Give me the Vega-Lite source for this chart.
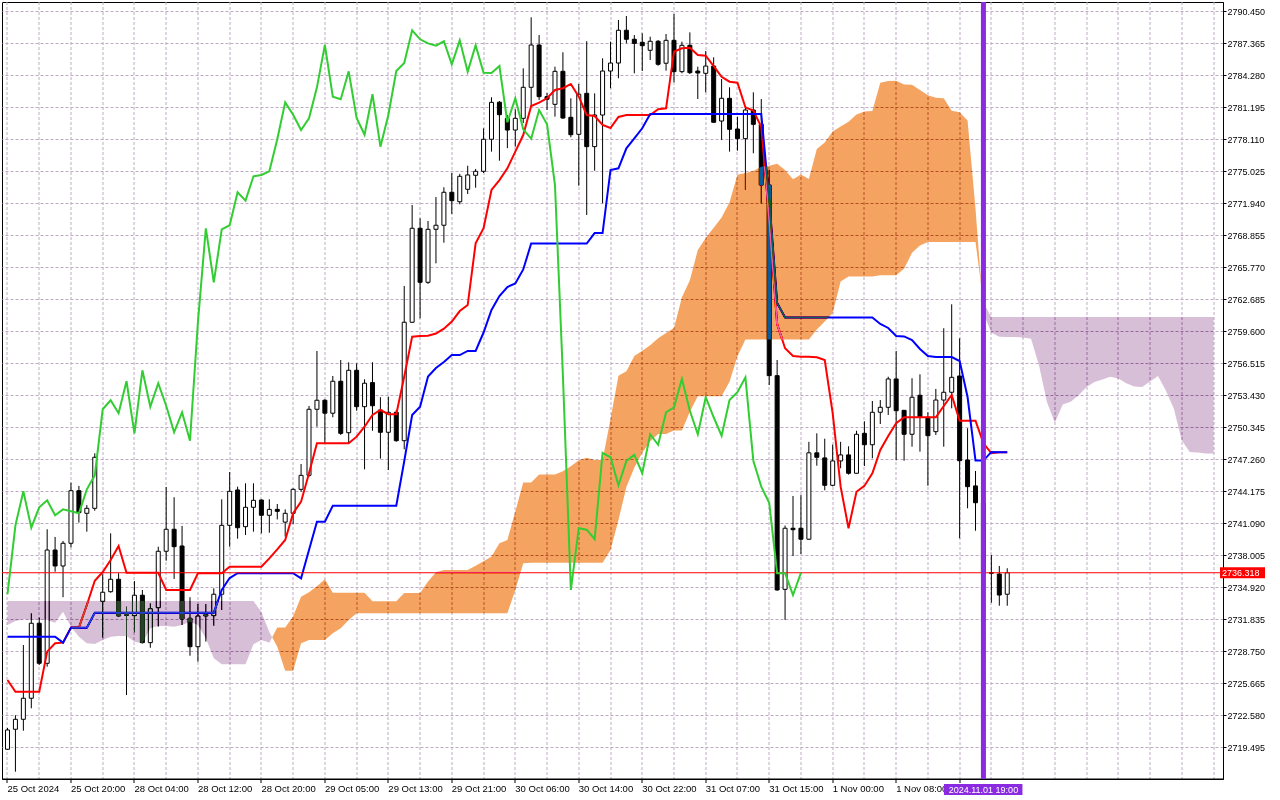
{
  "$schema": "https://vega.github.io/schema/vega-lite/v6.json",
  "width": 1221,
  "height": 777,
  "autosize": {"type": "none"},
  "padding": {"left": 2, "top": 2, "right": 57, "bottom": 21},
  "background": "white",
  "datasets": {
    "bars": [
      {"i": 0, "o": 2719.30, "h": 2721.35, "l": 2719.23, "c": 2721.16, "tenkan": 2725.98, "kijun": 2730.15, "chikou": 2734.25},
      {"i": 1, "o": 2721.23, "h": 2722.58, "l": 2717.14, "c": 2722.19, "tenkan": 2724.85, "kijun": 2730.15, "chikou": 2740.89},
      {"i": 2, "o": 2722.19, "h": 2729.35, "l": 2721.09, "c": 2724.22, "tenkan": 2724.85, "kijun": 2730.15, "chikou": 2744.17},
      {"i": 3, "o": 2724.22, "h": 2732.41, "l": 2723.25, "c": 2731.45, "tenkan": 2724.85, "kijun": 2730.15, "chikou": 2740.66},
      {"i": 4, "o": 2731.45, "h": 2731.99, "l": 2727.43, "c": 2727.59, "tenkan": 2724.85, "kijun": 2730.15, "chikou": 2742.63},
      {"i": 5, "o": 2727.59, "h": 2740.51, "l": 2727.26, "c": 2738.51, "tenkan": 2728.71, "kijun": 2730.15, "chikou": 2743.30},
      {"i": 6, "o": 2738.51, "h": 2739.77, "l": 2736.42, "c": 2736.97, "tenkan": 2729.52, "kijun": 2730.15, "chikou": 2741.86},
      {"i": 7, "o": 2736.97, "h": 2739.38, "l": 2733.96, "c": 2739.16, "tenkan": 2729.58, "kijun": 2729.58, "chikou": 2742.43},
      {"i": 8, "o": 2739.16, "h": 2745.00, "l": 2738.77, "c": 2744.23, "tenkan": 2731.04, "kijun": 2731.02, "chikou": 2742.24},
      {"i": 9, "o": 2744.23, "h": 2744.69, "l": 2741.15, "c": 2742.11, "tenkan": 2731.04, "kijun": 2731.02, "chikou": 2742.05},
      {"i": 10, "o": 2742.05, "h": 2742.85, "l": 2740.28, "c": 2742.53, "tenkan": 2733.21, "kijun": 2731.02, "chikou": 2744.36},
      {"i": 11, "o": 2742.53, "h": 2747.84, "l": 2742.30, "c": 2747.45, "tenkan": 2735.55, "kijun": 2732.47, "chikou": 2745.71},
      {"i": 12, "o": 2733.57, "h": 2736.17, "l": 2730.06, "c": 2734.44, "tenkan": 2736.39, "kijun": 2732.47, "chikou": 2752.08},
      {"i": 13, "o": 2734.49, "h": 2740.12, "l": 2734.40, "c": 2735.69, "tenkan": 2737.55, "kijun": 2732.47, "chikou": 2752.95},
      {"i": 14, "o": 2735.69, "h": 2736.27, "l": 2732.08, "c": 2732.15, "tenkan": 2738.90, "kijun": 2732.47, "chikou": 2751.70},
      {"i": 15, "o": 2732.41, "h": 2733.05, "l": 2724.53, "c": 2732.22, "tenkan": 2736.32, "kijun": 2732.47, "chikou": 2754.78},
      {"i": 16, "o": 2732.18, "h": 2735.52, "l": 2730.58, "c": 2734.15, "tenkan": 2736.32, "kijun": 2732.47, "chikou": 2749.76},
      {"i": 17, "o": 2734.15, "h": 2734.66, "l": 2729.50, "c": 2729.58, "tenkan": 2736.32, "kijun": 2732.47, "chikou": 2755.84},
      {"i": 18, "o": 2729.58, "h": 2733.37, "l": 2729.09, "c": 2732.85, "tenkan": 2736.32, "kijun": 2732.47, "chikou": 2752.33},
      {"i": 19, "o": 2732.95, "h": 2738.83, "l": 2731.12, "c": 2738.39, "tenkan": 2736.32, "kijun": 2732.47, "chikou": 2754.59},
      {"i": 20, "o": 2738.39, "h": 2744.59, "l": 2737.48, "c": 2740.51, "tenkan": 2734.66, "kijun": 2732.47, "chikou": 2752.42},
      {"i": 21, "o": 2740.51, "h": 2743.60, "l": 2735.72, "c": 2738.83, "tenkan": 2734.66, "kijun": 2732.47, "chikou": 2749.86},
      {"i": 22, "o": 2738.90, "h": 2740.83, "l": 2731.28, "c": 2731.86, "tenkan": 2734.66, "kijun": 2732.47, "chikou": 2751.79},
      {"i": 23, "o": 2731.93, "h": 2733.96, "l": 2728.32, "c": 2729.19, "tenkan": 2734.66, "kijun": 2732.47, "chikou": 2749.05},
      {"i": 24, "o": 2729.19, "h": 2733.31, "l": 2727.74, "c": 2732.15, "tenkan": 2736.27, "kijun": 2732.47, "chikou": 2760.47},
      {"i": 25, "o": 2732.28, "h": 2733.31, "l": 2729.68, "c": 2732.15, "tenkan": 2736.27, "kijun": 2732.47, "chikou": 2769.53},
      {"i": 26, "o": 2732.18, "h": 2734.82, "l": 2731.21, "c": 2734.25, "tenkan": 2736.27, "kijun": 2732.47, "chikou": 2764.32},
      {"i": 27, "o": 2734.25, "h": 2743.40, "l": 2732.73, "c": 2740.89, "tenkan": 2736.27, "kijun": 2734.66, "chikou": 2769.43},
      {"i": 28, "o": 2740.89, "h": 2746.03, "l": 2738.83, "c": 2744.17, "tenkan": 2736.90, "kijun": 2735.81, "chikou": 2769.82},
      {"i": 29, "o": 2744.30, "h": 2744.62, "l": 2739.60, "c": 2740.66, "tenkan": 2736.90, "kijun": 2736.27, "chikou": 2773.00},
      {"i": 30, "o": 2740.76, "h": 2744.94, "l": 2739.96, "c": 2742.63, "tenkan": 2736.90, "kijun": 2736.27, "chikou": 2772.19},
      {"i": 31, "o": 2742.63, "h": 2744.94, "l": 2740.28, "c": 2743.30, "tenkan": 2736.90, "kijun": 2736.27, "chikou": 2774.54},
      {"i": 32, "o": 2743.33, "h": 2743.40, "l": 2740.12, "c": 2741.86, "tenkan": 2736.90, "kijun": 2736.27, "chikou": 2774.67},
      {"i": 33, "o": 2741.86, "h": 2743.40, "l": 2740.18, "c": 2742.43, "tenkan": 2737.71, "kijun": 2736.27, "chikou": 2775.02},
      {"i": 34, "o": 2742.43, "h": 2742.95, "l": 2741.46, "c": 2742.24, "tenkan": 2738.58, "kijun": 2736.27, "chikou": 2778.11},
      {"i": 35, "o": 2741.20, "h": 2742.43, "l": 2739.80, "c": 2742.05, "tenkan": 2739.48, "kijun": 2736.27, "chikou": 2781.67},
      {"i": 36, "o": 2742.05, "h": 2744.46, "l": 2741.01, "c": 2744.36, "tenkan": 2742.05, "kijun": 2736.27, "chikou": 2780.48},
      {"i": 37, "o": 2744.36, "h": 2746.80, "l": 2744.13, "c": 2745.71, "tenkan": 2743.17, "kijun": 2735.78, "chikou": 2779.00},
      {"i": 38, "o": 2745.71, "h": 2752.40, "l": 2745.58, "c": 2752.08, "tenkan": 2745.92, "kijun": 2738.51, "chikou": 2780.13},
      {"i": 39, "o": 2752.08, "h": 2757.70, "l": 2750.40, "c": 2752.95, "tenkan": 2748.80, "kijun": 2741.24, "chikou": 2783.12},
      {"i": 40, "o": 2752.95, "h": 2753.05, "l": 2748.80, "c": 2751.70, "tenkan": 2748.80, "kijun": 2741.24, "chikou": 2787.20},
      {"i": 41, "o": 2751.70, "h": 2755.29, "l": 2751.31, "c": 2754.78, "tenkan": 2748.80, "kijun": 2742.78, "chikou": 2782.22},
      {"i": 42, "o": 2754.78, "h": 2756.83, "l": 2749.60, "c": 2749.76, "tenkan": 2748.80, "kijun": 2742.78, "chikou": 2781.97},
      {"i": 43, "o": 2749.82, "h": 2756.61, "l": 2748.80, "c": 2755.84, "tenkan": 2748.80, "kijun": 2742.78, "chikou": 2784.66},
      {"i": 44, "o": 2755.84, "h": 2756.51, "l": 2751.94, "c": 2752.33, "tenkan": 2749.44, "kijun": 2742.78, "chikou": 2780.16},
      {"i": 45, "o": 2752.33, "h": 2754.97, "l": 2746.29, "c": 2754.59, "tenkan": 2750.40, "kijun": 2742.78, "chikou": 2778.55},
      {"i": 46, "o": 2754.65, "h": 2756.61, "l": 2750.01, "c": 2752.42, "tenkan": 2751.53, "kijun": 2742.78, "chikou": 2782.45},
      {"i": 47, "o": 2752.01, "h": 2753.24, "l": 2747.32, "c": 2749.86, "tenkan": 2752.01, "kijun": 2742.78, "chikou": 2777.40},
      {"i": 48, "o": 2749.86, "h": 2753.30, "l": 2746.22, "c": 2751.79, "tenkan": 2751.60, "kijun": 2742.78, "chikou": 2780.45},
      {"i": 49, "o": 2751.79, "h": 2752.01, "l": 2748.95, "c": 2749.05, "tenkan": 2751.60, "kijun": 2742.78, "chikou": 2784.69},
      {"i": 50, "o": 2749.05, "h": 2763.97, "l": 2748.22, "c": 2760.47, "tenkan": 2755.22, "kijun": 2747.07, "chikou": 2785.46},
      {"i": 51, "o": 2760.47, "h": 2771.77, "l": 2760.40, "c": 2769.53, "tenkan": 2759.08, "kijun": 2751.53, "chikou": 2788.62},
      {"i": 52, "o": 2769.53, "h": 2770.49, "l": 2760.85, "c": 2764.32, "tenkan": 2759.14, "kijun": 2752.33, "chikou": 2787.75},
      {"i": 53, "o": 2764.32, "h": 2770.23, "l": 2764.16, "c": 2769.43, "tenkan": 2759.17, "kijun": 2755.24, "chikou": 2787.36},
      {"i": 54, "o": 2769.43, "h": 2772.54, "l": 2766.15, "c": 2769.82, "tenkan": 2759.38, "kijun": 2756.06, "chikou": 2787.13},
      {"i": 55, "o": 2769.82, "h": 2773.48, "l": 2768.14, "c": 2773.00, "tenkan": 2759.85, "kijun": 2756.64, "chikou": 2787.56},
      {"i": 56, "o": 2773.00, "h": 2774.86, "l": 2770.91, "c": 2772.19, "tenkan": 2760.54, "kijun": 2757.31, "chikou": 2785.34},
      {"i": 57, "o": 2772.09, "h": 2774.77, "l": 2771.84, "c": 2774.54, "tenkan": 2761.55, "kijun": 2757.31, "chikou": 2787.65},
      {"i": 58, "o": 2773.29, "h": 2775.56, "l": 2772.83, "c": 2774.67, "tenkan": 2762.13, "kijun": 2757.70, "chikou": 2784.63},
      {"i": 59, "o": 2774.64, "h": 2775.25, "l": 2773.44, "c": 2775.02, "tenkan": 2768.08, "kijun": 2757.70, "chikou": 2787.17},
      {"i": 60, "o": 2775.02, "h": 2779.17, "l": 2774.86, "c": 2778.11, "tenkan": 2769.53, "kijun": 2759.48, "chikou": 2784.53},
      {"i": 61, "o": 2778.11, "h": 2782.16, "l": 2776.92, "c": 2781.67, "tenkan": 2773.22, "kijun": 2761.65, "chikou": 2784.50},
      {"i": 62, "o": 2781.68, "h": 2781.80, "l": 2776.05, "c": 2780.48, "tenkan": 2774.18, "kijun": 2763.00, "chikou": 2785.17},
      {"i": 63, "o": 2780.13, "h": 2780.45, "l": 2777.25, "c": 2779.00, "tenkan": 2775.31, "kijun": 2763.87, "chikou": 2779.75},
      {"i": 64, "o": 2779.00, "h": 2781.00, "l": 2777.40, "c": 2780.13, "tenkan": 2776.92, "kijun": 2764.21, "chikou": 2782.06},
      {"i": 65, "o": 2780.13, "h": 2784.95, "l": 2779.68, "c": 2783.12, "tenkan": 2778.52, "kijun": 2765.56, "chikou": 2779.07},
      {"i": 66, "o": 2783.12, "h": 2789.87, "l": 2781.25, "c": 2787.20, "tenkan": 2781.32, "kijun": 2768.06, "chikou": 2778.17},
      {"i": 67, "o": 2787.20, "h": 2788.16, "l": 2781.90, "c": 2782.22, "tenkan": 2781.64, "kijun": 2768.06, "chikou": 2780.93},
      {"i": 68, "o": 2782.22, "h": 2782.57, "l": 2780.93, "c": 2781.97, "tenkan": 2782.06, "kijun": 2768.06, "chikou": 2779.55},
      {"i": 69, "o": 2781.48, "h": 2785.11, "l": 2780.29, "c": 2784.66, "tenkan": 2782.86, "kijun": 2768.06, "chikou": 2773.70},
      {"i": 70, "o": 2784.66, "h": 2786.50, "l": 2780.07, "c": 2780.16, "tenkan": 2783.03, "kijun": 2768.06, "chikou": 2755.32},
      {"i": 71, "o": 2780.23, "h": 2782.06, "l": 2778.30, "c": 2778.55, "tenkan": 2783.44, "kijun": 2768.06, "chikou": 2734.66},
      {"i": 72, "o": 2778.59, "h": 2783.44, "l": 2773.63, "c": 2782.45, "tenkan": 2782.22, "kijun": 2768.06, "chikou": 2740.61},
      {"i": 73, "o": 2782.54, "h": 2787.56, "l": 2770.81, "c": 2777.40, "tenkan": 2780.45, "kijun": 2768.06, "chikou": 2740.47},
      {"i": 74, "o": 2777.40, "h": 2782.54, "l": 2775.08, "c": 2780.45, "tenkan": 2780.35, "kijun": 2769.07, "chikou": 2739.55},
      {"i": 75, "o": 2780.45, "h": 2785.92, "l": 2771.94, "c": 2784.69, "tenkan": 2779.49, "kijun": 2769.07, "chikou": 2747.88},
      {"i": 76, "o": 2784.69, "h": 2787.52, "l": 2783.03, "c": 2785.46, "tenkan": 2779.20, "kijun": 2775.15, "chikou": 2747.45},
      {"i": 77, "o": 2785.46, "h": 2789.61, "l": 2783.99, "c": 2788.62, "tenkan": 2780.26, "kijun": 2775.31, "chikou": 2744.75},
      {"i": 78, "o": 2788.62, "h": 2789.99, "l": 2787.36, "c": 2787.75, "tenkan": 2780.45, "kijun": 2777.24, "chikou": 2747.10},
      {"i": 79, "o": 2787.75, "h": 2788.16, "l": 2784.47, "c": 2787.36, "tenkan": 2780.45, "kijun": 2778.20, "chikou": 2747.68},
      {"i": 80, "o": 2787.46, "h": 2788.33, "l": 2784.69, "c": 2787.13, "tenkan": 2780.45, "kijun": 2779.17, "chikou": 2745.91},
      {"i": 81, "o": 2786.69, "h": 2788.00, "l": 2785.75, "c": 2787.56, "tenkan": 2780.45, "kijun": 2780.55, "chikou": 2749.67},
      {"i": 82, "o": 2787.56, "h": 2787.68, "l": 2785.20, "c": 2785.34, "tenkan": 2781.00, "kijun": 2780.55, "chikou": 2748.66},
      {"i": 83, "o": 2785.44, "h": 2788.26, "l": 2784.72, "c": 2787.65, "tenkan": 2781.10, "kijun": 2780.55, "chikou": 2751.79},
      {"i": 84, "o": 2787.65, "h": 2790.19, "l": 2783.60, "c": 2784.63, "tenkan": 2786.55, "kijun": 2780.55, "chikou": 2752.27},
      {"i": 85, "o": 2784.63, "h": 2787.52, "l": 2784.47, "c": 2787.17, "tenkan": 2786.88, "kijun": 2780.55, "chikou": 2755.00},
      {"i": 86, "o": 2787.17, "h": 2788.42, "l": 2784.40, "c": 2784.53, "tenkan": 2786.94, "kijun": 2780.55, "chikou": 2751.94},
      {"i": 87, "o": 2784.69, "h": 2785.11, "l": 2781.99, "c": 2784.50, "tenkan": 2786.24, "kijun": 2780.55, "chikou": 2749.67},
      {"i": 88, "o": 2784.47, "h": 2786.62, "l": 2782.64, "c": 2785.17, "tenkan": 2786.17, "kijun": 2780.55, "chikou": 2753.24},
      {"i": 89, "o": 2785.17, "h": 2786.01, "l": 2779.71, "c": 2779.75, "tenkan": 2785.17, "kijun": 2780.55, "chikou": 2751.31},
      {"i": 90, "o": 2779.87, "h": 2783.92, "l": 2778.04, "c": 2782.06, "tenkan": 2784.14, "kijun": 2780.55, "chikou": 2749.53},
      {"i": 91, "o": 2782.06, "h": 2783.12, "l": 2776.92, "c": 2779.07, "tenkan": 2783.66, "kijun": 2780.55, "chikou": 2752.97},
      {"i": 92, "o": 2779.10, "h": 2780.29, "l": 2777.01, "c": 2778.17, "tenkan": 2783.57, "kijun": 2780.55, "chikou": 2753.72},
      {"i": 93, "o": 2778.17, "h": 2781.25, "l": 2773.22, "c": 2780.93, "tenkan": 2781.19, "kijun": 2780.55, "chikou": 2755.16},
      {"i": 94, "o": 2780.93, "h": 2782.64, "l": 2776.76, "c": 2779.55, "tenkan": 2780.87, "kijun": 2780.55, "chikou": 2747.12},
      {"i": 95, "o": 2779.55, "h": 2781.99, "l": 2771.94, "c": 2773.70, "tenkan": 2779.30, "kijun": 2780.55, "chikou": 2744.62},
      {"i": 96, "o": 2773.70, "h": 2775.15, "l": 2754.42, "c": 2755.32, "tenkan": 2770.52, "kijun": 2772.35, "chikou": 2743.07},
      {"i": 97, "o": 2755.32, "h": 2756.83, "l": 2734.59, "c": 2734.66, "tenkan": 2760.30, "kijun": 2762.33, "chikou": 2736.27},
      {"i": 98, "o": 2734.72, "h": 2740.87, "l": 2731.77, "c": 2740.61, "tenkan": 2757.96, "kijun": 2760.93, "chikou": 2736.27},
      {"i": 99, "o": 2740.61, "h": 2743.72, "l": 2737.93, "c": 2740.47, "tenkan": 2757.22, "kijun": 2760.93, "chikou": 2734.17},
      {"i": 100, "o": 2740.61, "h": 2743.81, "l": 2738.13, "c": 2739.55, "tenkan": 2757.15, "kijun": 2760.93, "chikou": 2736.32},
      {"i": 101, "o": 2739.55, "h": 2748.94, "l": 2739.50, "c": 2747.88, "tenkan": 2757.15, "kijun": 2760.93},
      {"i": 102, "o": 2747.88, "h": 2749.76, "l": 2746.64, "c": 2747.45, "tenkan": 2757.09, "kijun": 2760.93},
      {"i": 103, "o": 2747.39, "h": 2749.24, "l": 2744.27, "c": 2744.75, "tenkan": 2756.83, "kijun": 2760.93},
      {"i": 104, "o": 2744.75, "h": 2748.67, "l": 2744.65, "c": 2747.10, "tenkan": 2751.70, "kijun": 2760.93},
      {"i": 105, "o": 2747.10, "h": 2748.94, "l": 2746.39, "c": 2747.68, "tenkan": 2744.62, "kijun": 2760.93},
      {"i": 106, "o": 2747.68, "h": 2748.51, "l": 2745.78, "c": 2745.91, "tenkan": 2740.61, "kijun": 2760.93},
      {"i": 107, "o": 2745.91, "h": 2750.01, "l": 2745.88, "c": 2749.67, "tenkan": 2744.13, "kijun": 2760.93},
      {"i": 108, "o": 2749.76, "h": 2750.92, "l": 2746.61, "c": 2748.66, "tenkan": 2744.69, "kijun": 2760.93},
      {"i": 109, "o": 2748.66, "h": 2752.88, "l": 2747.35, "c": 2751.79, "tenkan": 2745.91, "kijun": 2760.93},
      {"i": 110, "o": 2751.79, "h": 2752.97, "l": 2750.66, "c": 2752.27, "tenkan": 2748.16, "kijun": 2760.30},
      {"i": 111, "o": 2752.27, "h": 2755.22, "l": 2751.53, "c": 2755.00, "tenkan": 2749.51, "kijun": 2759.92},
      {"i": 112, "o": 2755.00, "h": 2757.70, "l": 2747.16, "c": 2751.94, "tenkan": 2750.73, "kijun": 2759.14},
      {"i": 113, "o": 2751.98, "h": 2752.01, "l": 2747.12, "c": 2749.67, "tenkan": 2751.31, "kijun": 2759.10},
      {"i": 114, "o": 2749.67, "h": 2755.07, "l": 2748.47, "c": 2753.24, "tenkan": 2751.31, "kijun": 2758.76},
      {"i": 115, "o": 2753.43, "h": 2755.45, "l": 2747.99, "c": 2751.31, "tenkan": 2751.31, "kijun": 2757.89},
      {"i": 116, "o": 2751.31, "h": 2751.79, "l": 2744.71, "c": 2749.53, "tenkan": 2751.31, "kijun": 2757.22},
      {"i": 117, "o": 2749.92, "h": 2754.04, "l": 2749.60, "c": 2752.97, "tenkan": 2751.31, "kijun": 2757.12},
      {"i": 118, "o": 2752.97, "h": 2759.89, "l": 2748.47, "c": 2753.72, "tenkan": 2752.40, "kijun": 2757.12},
      {"i": 119, "o": 2753.72, "h": 2762.20, "l": 2752.17, "c": 2755.16, "tenkan": 2753.46, "kijun": 2757.12},
      {"i": 120, "o": 2755.29, "h": 2758.92, "l": 2739.64, "c": 2747.12, "tenkan": 2750.98, "kijun": 2756.73},
      {"i": 121, "o": 2747.19, "h": 2750.25, "l": 2742.53, "c": 2744.62, "tenkan": 2750.98, "kijun": 2753.26},
      {"i": 122, "o": 2744.69, "h": 2746.13, "l": 2740.37, "c": 2743.07, "tenkan": 2750.98, "kijun": 2747.13},
      {"i": 123, "o": 2743.07, "h": 2743.81, "l": 2735.62, "c": 2736.27, "tenkan": 2748.80, "kijun": 2747.13},
      {"i": 124, "o": 2736.33, "h": 2738.03, "l": 2733.43, "c": 2736.27, "tenkan": 2747.84, "kijun": 2747.97},
      {"i": 125, "o": 2736.20, "h": 2736.97, "l": 2733.14, "c": 2734.17, "tenkan": 2747.94, "kijun": 2747.94},
      {"i": 126, "o": 2734.25, "h": 2736.75, "l": 2733.14, "c": 2736.318, "tenkan": 2747.94, "kijun": 2747.94}
    ],
    "cloud": [
      {"i": 0, "a": 2731.28, "b": 2733.60}, {"i": 1, "a": 2731.67, "b": 2733.60}, {"i": 2, "a": 2731.83, "b": 2733.60},
      {"i": 3, "a": 2731.76, "b": 2733.60}, {"i": 4, "a": 2731.83, "b": 2733.60}, {"i": 5, "a": 2731.76, "b": 2733.60},
      {"i": 6, "a": 2731.50, "b": 2733.60}, {"i": 7, "a": 2732.57, "b": 2733.60}, {"i": 8, "a": 2731.12, "b": 2733.60},
      {"i": 9, "a": 2730.15, "b": 2733.60}, {"i": 10, "a": 2729.52, "b": 2733.60}, {"i": 11, "a": 2729.45, "b": 2733.60},
      {"i": 12, "a": 2729.83, "b": 2733.60}, {"i": 13, "a": 2730.15, "b": 2733.60}, {"i": 14, "a": 2730.22, "b": 2733.60},
      {"i": 15, "a": 2730.22, "b": 2733.60}, {"i": 16, "a": 2729.67, "b": 2733.60}, {"i": 17, "a": 2729.52, "b": 2733.60},
      {"i": 18, "a": 2730.96, "b": 2733.60}, {"i": 19, "a": 2731.19, "b": 2733.60}, {"i": 20, "a": 2731.19, "b": 2733.60},
      {"i": 21, "a": 2731.12, "b": 2733.60}, {"i": 22, "a": 2731.28, "b": 2733.60}, {"i": 23, "a": 2731.60, "b": 2733.60},
      {"i": 24, "a": 2731.28, "b": 2733.60}, {"i": 25, "a": 2730.00, "b": 2733.60}, {"i": 26, "a": 2728.07, "b": 2733.60},
      {"i": 27, "a": 2727.50, "b": 2733.60}, {"i": 28, "a": 2727.50, "b": 2733.60}, {"i": 29, "a": 2727.50, "b": 2733.60},
      {"i": 30, "a": 2727.50, "b": 2733.60}, {"i": 31, "a": 2729.43, "b": 2733.60}, {"i": 32, "a": 2729.84, "b": 2732.54},
      {"i": 33, "a": 2729.58, "b": 2730.61}, {"i": 33.36, "a": 2730.10, "b": 2730.10},
      {"i": 34, "a": 2731.03, "b": 2729.19}, {"i": 35, "a": 2731.03, "b": 2726.88}, {"i": 36, "a": 2732.12, "b": 2726.88},
      {"i": 37, "a": 2734.01, "b": 2729.52}, {"i": 38, "a": 2734.43, "b": 2729.83}, {"i": 39, "a": 2735.01, "b": 2729.83},
      {"i": 40, "a": 2735.69, "b": 2729.83}, {"i": 41, "a": 2734.40, "b": 2730.48}, {"i": 42, "a": 2734.40, "b": 2730.96},
      {"i": 43, "a": 2734.40, "b": 2731.76}, {"i": 44, "a": 2734.40, "b": 2732.41}, {"i": 45, "a": 2734.40, "b": 2732.41},
      {"i": 46, "a": 2733.57, "b": 2732.41}, {"i": 47, "a": 2733.57, "b": 2732.41}, {"i": 48, "a": 2733.57, "b": 2732.41},
      {"i": 49, "a": 2733.57, "b": 2732.41}, {"i": 50, "a": 2734.37, "b": 2732.41}, {"i": 51, "a": 2734.37, "b": 2732.41},
      {"i": 52, "a": 2734.37, "b": 2732.41}, {"i": 53, "a": 2735.47, "b": 2732.41}, {"i": 54, "a": 2736.36, "b": 2732.41},
      {"i": 55, "a": 2736.59, "b": 2732.41}, {"i": 56, "a": 2736.59, "b": 2732.41}, {"i": 57, "a": 2736.59, "b": 2732.41},
      {"i": 58, "a": 2736.59, "b": 2732.41}, {"i": 59, "a": 2736.99, "b": 2732.41}, {"i": 60, "a": 2737.43, "b": 2732.41},
      {"i": 61, "a": 2737.88, "b": 2732.41}, {"i": 62, "a": 2739.16, "b": 2732.41}, {"i": 63, "a": 2739.48, "b": 2732.41},
      {"i": 64, "a": 2742.22, "b": 2734.66}, {"i": 65, "a": 2745.02, "b": 2737.23}, {"i": 66, "a": 2745.02, "b": 2737.29},
      {"i": 67, "a": 2745.79, "b": 2737.29}, {"i": 68, "a": 2745.79, "b": 2737.29}, {"i": 69, "a": 2745.79, "b": 2737.29},
      {"i": 70, "a": 2746.11, "b": 2737.29}, {"i": 71, "a": 2746.59, "b": 2737.29}, {"i": 72, "a": 2747.16, "b": 2737.29},
      {"i": 73, "a": 2747.40, "b": 2737.29}, {"i": 74, "a": 2747.19, "b": 2737.29}, {"i": 75, "a": 2747.19, "b": 2737.29},
      {"i": 76, "a": 2751.15, "b": 2738.51}, {"i": 77, "a": 2755.31, "b": 2741.40}, {"i": 78, "a": 2755.74, "b": 2744.58},
      {"i": 79, "a": 2757.21, "b": 2746.43}, {"i": 80, "a": 2757.72, "b": 2747.89}, {"i": 81, "a": 2758.25, "b": 2748.99},
      {"i": 82, "a": 2758.93, "b": 2749.69}, {"i": 83, "a": 2759.43, "b": 2749.69}, {"i": 84, "a": 2759.92, "b": 2750.04},
      {"i": 85, "a": 2762.89, "b": 2750.04}, {"i": 86, "a": 2764.51, "b": 2751.84}, {"i": 87, "a": 2767.44, "b": 2753.34},
      {"i": 88, "a": 2768.59, "b": 2753.34}, {"i": 89, "a": 2769.59, "b": 2753.34}, {"i": 90, "a": 2770.57, "b": 2753.34},
      {"i": 91, "a": 2772.04, "b": 2754.74}, {"i": 92, "a": 2774.69, "b": 2757.20}, {"i": 93, "a": 2774.85, "b": 2758.81},
      {"i": 94, "a": 2775.06, "b": 2758.81}, {"i": 95, "a": 2775.46, "b": 2758.81}, {"i": 96, "a": 2775.55, "b": 2758.81},
      {"i": 97, "a": 2775.75, "b": 2758.81}, {"i": 98, "a": 2775.14, "b": 2758.81}, {"i": 99, "a": 2774.26, "b": 2758.81},
      {"i": 100, "a": 2774.71, "b": 2758.81}, {"i": 101, "a": 2774.28, "b": 2758.81}, {"i": 102, "a": 2777.18, "b": 2759.77},
      {"i": 103, "a": 2777.79, "b": 2760.54}, {"i": 104, "a": 2778.85, "b": 2761.36}, {"i": 105, "a": 2779.33, "b": 2764.41},
      {"i": 106, "a": 2779.81, "b": 2764.89}, {"i": 107, "a": 2780.50, "b": 2764.89}, {"i": 108, "a": 2780.78, "b": 2764.89},
      {"i": 109, "a": 2780.83, "b": 2764.89}, {"i": 110, "a": 2783.55, "b": 2764.99}, {"i": 111, "a": 2783.72, "b": 2764.99},
      {"i": 112, "a": 2783.75, "b": 2764.99}, {"i": 113, "a": 2783.40, "b": 2765.63}, {"i": 114, "a": 2783.36, "b": 2767.16},
      {"i": 115, "a": 2782.86, "b": 2767.88}, {"i": 116, "a": 2782.35, "b": 2768.21}, {"i": 117, "a": 2782.11, "b": 2768.21},
      {"i": 118, "a": 2782.06, "b": 2768.21}, {"i": 119, "a": 2780.87, "b": 2768.21}, {"i": 120, "a": 2780.71, "b": 2768.21},
      {"i": 121, "a": 2779.93, "b": 2768.21}, {"i": 122, "a": 2771.44, "b": 2768.21}, {"i": 122.75, "a": 2763.82, "b": 2763.82},
      {"i": 123, "a": 2761.32, "b": 2762.38}, {"i": 124, "a": 2759.45, "b": 2760.97}, {"i": 125, "a": 2759.08, "b": 2760.97},
      {"i": 126, "a": 2759.04, "b": 2760.97}, {"i": 127, "a": 2759.04, "b": 2760.97}, {"i": 128, "a": 2759.01, "b": 2760.97},
      {"i": 129, "a": 2758.88, "b": 2760.97}, {"i": 130, "a": 2756.32, "b": 2760.97}, {"i": 131, "a": 2752.78, "b": 2760.97},
      {"i": 132, "a": 2750.77, "b": 2760.97}, {"i": 133, "a": 2752.53, "b": 2760.97}, {"i": 134, "a": 2752.81, "b": 2760.97},
      {"i": 135, "a": 2753.42, "b": 2760.97}, {"i": 136, "a": 2754.23, "b": 2760.97}, {"i": 137, "a": 2754.72, "b": 2760.97},
      {"i": 138, "a": 2754.94, "b": 2760.97}, {"i": 139, "a": 2755.21, "b": 2760.97}, {"i": 140, "a": 2755.04, "b": 2760.97},
      {"i": 141, "a": 2754.60, "b": 2760.97}, {"i": 142, "a": 2754.27, "b": 2760.97}, {"i": 143, "a": 2754.22, "b": 2760.97},
      {"i": 144, "a": 2754.76, "b": 2760.97}, {"i": 145, "a": 2755.29, "b": 2760.97}, {"i": 146, "a": 2753.86, "b": 2760.97},
      {"i": 147, "a": 2752.12, "b": 2760.97}, {"i": 148, "a": 2749.06, "b": 2760.97}, {"i": 149, "a": 2747.97, "b": 2760.97},
      {"i": 150, "a": 2747.91, "b": 2760.97}, {"i": 151, "a": 2747.81, "b": 2760.97}, {"i": 152, "a": 2747.81, "b": 2760.97}
    ],
    "marks": [
      {"bar": 123, "bid": 2736.318, "time": "2024.11.01 19:00"}
    ]
  },
  "layer": [
    {
      "data": {"name": "bars"},
      "mark": {"type": "rule", "color": "black", "strokeWidth": 1},
      "encoding": {
        "x": {
          "field": "i",
          "type": "quantitative",
          "title": null,
          "scale": {"domain": [-0.0625, 152.5625], "nice": false, "zero": false},
          "axis": {
            "values": [0, 4, 8, 12, 16, 20, 24, 28, 32, 36, 40, 44, 48, 52, 56, 60, 64, 68, 72, 76, 80, 84, 88, 92, 96, 100, 104, 108, 112, 116, 120, 124, 128, 132, 136, 140, 144, 148, 152],
            "tickCount": 500,
            "labelExpr": "datum.value % 8 === 0 && datum.value <= 112 ? ['25 Oct 2024', '25 Oct 20:00', '28 Oct 04:00', '28 Oct 12:00', '28 Oct 20:00', '29 Oct 05:00', '29 Oct 13:00', '29 Oct 21:00', '30 Oct 06:00', '30 Oct 14:00', '30 Oct 22:00', '31 Oct 07:00', '31 Oct 15:00', '1 Nov 00:00', '1 Nov 08:00'][datum.value / 8] : ''",
            "labelAlign": "left",
            "labelDx": 1,
            "labelPadding": 1,
            "labelFontSize": 9.5,
            "labelOverlap": false,
            "labelFlush": false,
            "labelBound": false,
            "tickSize": 4,
            "tickOpacity": {"condition": {"test": "datum.value % 8 === 0 && datum.value <= 120", "value": 1}, "value": 0},
            "translate": 0,
            "grid": true,
            "zindex": 0
          }
        },
        "y": {
          "field": "l",
          "type": "quantitative",
          "title": null,
          "scale": {"domain": [2716.434, 2791.345], "nice": false, "zero": false},
          "axis": {
            "orient": "right",
            "values": [2719.495, 2722.58, 2725.665, 2728.75, 2731.835, 2734.92, 2738.005, 2741.09, 2744.175, 2747.26, 2750.345, 2753.43, 2756.515, 2759.6, 2762.685, 2765.77, 2768.855, 2771.94, 2775.025, 2778.11, 2781.195, 2784.28, 2787.365, 2790.45],
            "tickCount": 500,
            "format": ".3f",
            "labelFontSize": 9,
            "labelPadding": 1,
            "labelOverlap": false,
            "labelFlush": false,
            "tickSize": 3,
            "grid": true,
            "zindex": 0
          }
        },
        "y2": {"field": "h"}
      }
    },
    {
      "data": {"name": "bars"},
      "mark": {"type": "bar", "size": 4, "stroke": "black", "strokeWidth": 1},
      "encoding": {
        "x": {"field": "i", "type": "quantitative", "title": null},
        "y": {"field": "o", "type": "quantitative", "title": null},
        "y2": {"field": "c"},
        "fill": {"condition": {"test": "datum.c < datum.o", "value": "black"}, "value": "white"}
      }
    },
    {
      "data": {"name": "bars"},
      "mark": {"type": "line", "color": "#FF0000", "strokeWidth": 2},
      "encoding": {
        "x": {"field": "i", "type": "quantitative", "title": null},
        "y": {"field": "tenkan", "type": "quantitative", "title": null}
      }
    },
    {
      "data": {"name": "bars"},
      "mark": {"type": "line", "color": "#0000FF", "strokeWidth": 2},
      "encoding": {
        "x": {"field": "i", "type": "quantitative", "title": null},
        "y": {"field": "kijun", "type": "quantitative", "title": null}
      }
    },
    {
      "data": {"name": "marks"},
      "mark": {"type": "rule", "color": "#FF0000", "strokeWidth": 1},
      "encoding": {
        "y": {"field": "bid", "type": "quantitative", "title": null}
      }
    },
    {
      "data": {"name": "cloud"},
      "transform": [{"filter": "datum.i <= 33.36"}],
      "mark": {"type": "area", "color": "#274027", "blend": "difference", "opacity": 1},
      "encoding": {
        "x": {"field": "i", "type": "quantitative", "title": null},
        "y": {"field": "b", "type": "quantitative", "title": null},
        "y2": {"field": "a"}
      }
    },
    {
      "data": {"name": "cloud"},
      "transform": [{"filter": "datum.i >= 33.36 && datum.i <= 122.75"}],
      "mark": {"type": "area", "color": "#0B5B9F", "blend": "difference", "opacity": 1},
      "encoding": {
        "x": {"field": "i", "type": "quantitative", "title": null},
        "y": {"field": "a", "type": "quantitative", "title": null},
        "y2": {"field": "b"}
      }
    },
    {
      "data": {"name": "cloud"},
      "transform": [{"filter": "datum.i >= 122.75"}],
      "mark": {"type": "area", "color": "#274027", "blend": "difference", "opacity": 1},
      "encoding": {
        "x": {"field": "i", "type": "quantitative", "title": null},
        "y": {"field": "b", "type": "quantitative", "title": null},
        "y2": {"field": "a"}
      }
    },
    {
      "data": {"name": "bars"},
      "mark": {"type": "line", "color": "#32CD32", "strokeWidth": 2},
      "encoding": {
        "x": {"field": "i", "type": "quantitative", "title": null},
        "y": {"field": "chikou", "type": "quantitative", "title": null}
      }
    },
    {
      "data": {"name": "marks"},
      "mark": {"type": "rule", "color": "#8A2BE2", "strokeWidth": 5},
      "encoding": {
        "x": {"field": "bar", "type": "quantitative", "title": null}
      }
    },
    {
      "data": {"name": "marks"},
      "mark": {"type": "rule", "color": "#FF0000", "strokeWidth": 11, "strokeCap": "butt", "xOffset": 2, "x2Offset": 47},
      "encoding": {
        "x": {"datum": 152.5625, "type": "quantitative"},
        "x2": {"datum": 152.5625},
        "y": {"field": "bid", "type": "quantitative", "title": null}
      }
    },
    {
      "data": {"name": "marks"},
      "mark": {"type": "text", "color": "white", "font": "Liberation Sans", "fontSize": 9, "align": "left", "baseline": "middle", "dx": 4},
      "encoding": {
        "x": {"datum": 152.5625, "type": "quantitative"},
        "y": {"field": "bid", "type": "quantitative", "title": null},
        "text": {"field": "bid", "format": ".3f"}
      }
    },
    {
      "data": {"name": "marks"},
      "mark": {"type": "rule", "color": "#8A2BE2", "strokeWidth": 11, "strokeCap": "butt", "xOffset": -39.5, "x2Offset": 39, "yOffset": 10.5},
      "encoding": {
        "x": {"field": "bar", "type": "quantitative", "title": null},
        "x2": {"field": "bar"},
        "y": {"datum": 2716.434, "type": "quantitative"}
      }
    },
    {
      "data": {"name": "marks"},
      "mark": {"type": "text", "color": "white", "font": "Liberation Sans", "fontSize": 9, "align": "center", "baseline": "middle", "dy": 10.5},
      "encoding": {
        "x": {"field": "bar", "type": "quantitative", "title": null},
        "y": {"datum": 2716.434, "type": "quantitative"},
        "text": {"field": "time"}
      }
    }
  ],
  "config": {
    "font": "Liberation Sans",
    "view": {"stroke": "black", "strokeWidth": 1},
    "axis": {
      "labelFont": "Liberation Sans",
      "labelColor": "black",
      "domainColor": "black",
      "tickColor": "black",
      "gridColor": "#BFAAC3",
      "gridDash": [3, 2],
      "gridWidth": 1
    }
  }
}
